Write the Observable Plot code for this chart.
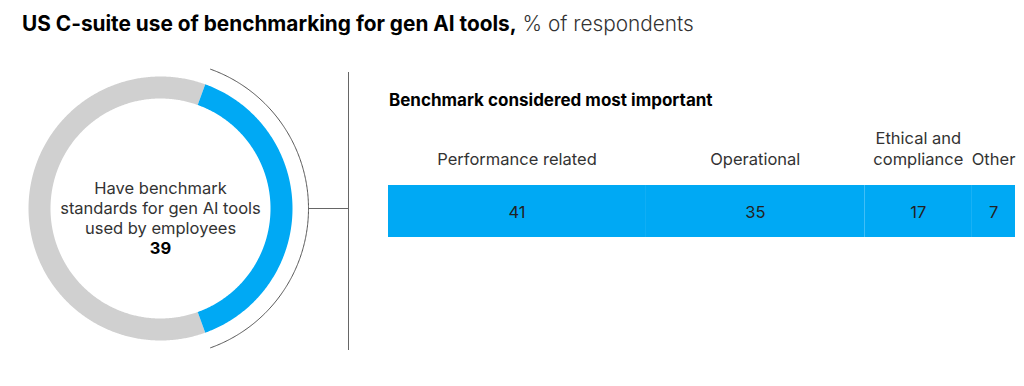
<!DOCTYPE html>
<html><head><meta charset="utf-8">
<script src="https://cdn.jsdelivr.net/npm/d3@7"></script>
<script src="https://cdn.jsdelivr.net/npm/@observablehq/plot@0.6"></script>
<style>
body{margin:0;width:1024px;height:386px;background:#fff;font-family:Inter,Roboto,sans-serif;overflow:hidden;position:relative}
#title{position:absolute;left:22px;top:11px;font-size:20.8px;line-height:26px;color:#000;white-space:nowrap}
#title b{font-weight:700}
#title span{font-weight:300;color:#333}
#donut{position:absolute;left:0;top:50px}
#sub{position:absolute;left:389px;top:90px;font-size:17px;line-height:20px;font-weight:700;color:#000;white-space:nowrap}
#bars{position:absolute;left:370px;top:50px}
</style></head><body>
<div id="title"></div><div id="donut"></div><div id="sub"></div><div id="bars"></div>
<script>
// ---- data ----
const titleBold = "US C-suite use of benchmarking for gen AI tools,";
const titleLight = " % of respondents";
const donutLabel = "Have benchmark\nstandards for gen AI tools\nused by employees";
const donutValue = 39;
const barTitle = "Benchmark considered most important";
const categories = ["Performance related", "Operational", "Ethical and\ncompliance", "Other"];
const values = [41, 35, 17, 7];

// ---- styles / layout ----
const FONT = "Inter, Roboto, sans-serif";
const BLUE = "#00A9F4", GRAY = "#D0D0D0", TXT = "#333";
const ring = {r: 121, width: 22, outer: 148};
const divider = {x: 188, y1: 136, y2: -142, connectFrom: 148};

document.getElementById("title").innerHTML = `<b>${titleBold}</b><span>${titleLight}</span>`;
document.getElementById("sub").textContent = barTitle;

// arc points (angles in degrees, clockwise from 12 o'clock)
function arcPts(r, a0, a1, key) {
  const n = Math.max(2, Math.ceil(Math.abs(a1 - a0) * 2));
  return d3.range(n + 1).map(i => {
    const a = (a0 + (a1 - a0) * i / n) * Math.PI / 180;
    return {x: r * Math.sin(a), y: r * Math.cos(a), key};
  });
}
const half = donutValue / 100 * 180;
const blueArc = arcPts(ring.r, 90 - half, 90 + half, "yes");
const grayArc = arcPts(ring.r, 90 + half, 450 - half, "no");
const outerArc = arcPts(ring.outer, 90 - half, 90 + half, "outer");

const donut = Plot.plot({
  width: 370, height: 336,
  margin: 0,
  x: {domain: [-160, 210], range: [0, 370], axis: null},
  y: {domain: [-178, 158], range: [336, 0], axis: null},
  style: {fontFamily: FONT},
  marks: [
    Plot.line(grayArc, {x: "x", y: "y", stroke: GRAY, strokeWidth: ring.width, strokeLinecap: "butt", curve: "linear"}),
    Plot.line(blueArc, {x: "x", y: "y", stroke: BLUE, strokeWidth: ring.width, strokeLinecap: "butt", curve: "linear"}),
    Plot.line(outerArc, {x: "x", y: "y", stroke: "#555", strokeWidth: 1}),
    Plot.ruleY([0], {x1: divider.connectFrom, x2: divider.x, stroke: "#666", strokeWidth: 1}),
    Plot.ruleX([divider.x], {y1: divider.y1, y2: divider.y2, stroke: "#666", strokeWidth: 1}),
    Plot.text([donutLabel], {x: 0, y: 0, text: d => d, dy: -1, lineHeight: 1.22, fontSize: 16.5, fill: TXT}),
    Plot.text([donutValue], {x: 0, y: 0, text: d => String(d), dy: 40, fontSize: 16.5, fontWeight: 700, fill: "#000"})
  ]
});
document.getElementById("donut").append(donut);

const ends = d3.cumsum(values);
const rows = categories.map((c, i) => ({cat: c, value: values[i], start: ends[i] - values[i], end: ends[i], mid: ends[i] - values[i] / 2, g: "all"}));

const bars = Plot.plot({
  width: 654, height: 336,
  marginLeft: 18, marginRight: 9, marginTop: 0, marginBottom: 0,
  x: {domain: [0, d3.sum(values)], axis: null},
  y: {domain: ["all"], range: [135, 187], padding: 0, axis: null},
  style: {fontFamily: FONT},
  marks: [
    Plot.barX(rows, {x1: "start", x2: "end", y: "g", fill: BLUE}),
    Plot.ruleX(rows.slice(0, -1), {x: "end", y: "g", stroke: "white", strokeWidth: 1.5}),
    Plot.text(rows, {x: "mid", y: "g", text: d => String(d.value), fontSize: 16.5, fill: "#222", dy: 1}),
    Plot.text(rows, {x: "mid", y: "g", text: "cat", fontSize: 16.5, fill: TXT, lineAnchor: "bottom", lineHeight: 1.27, dy: -47})
  ]
});
document.getElementById("bars").append(bars);
</script>
</body></html>
